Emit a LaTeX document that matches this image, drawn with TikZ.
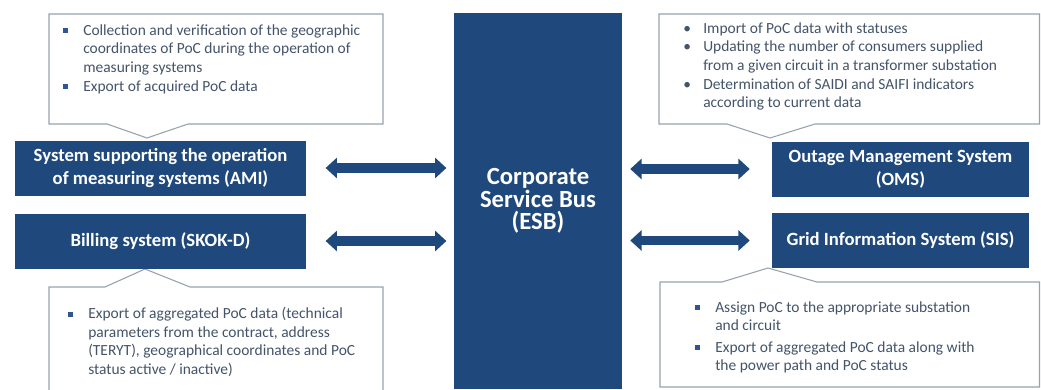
\documentclass[tikz,border=0pt]{standalone}
\usepackage{fontspec}
\setmainfont{Carlito}
\usetikzlibrary{arrows.meta}
\definecolor{busblue}{HTML}{1F497D}
\definecolor{notegray}{HTML}{44546A}
\definecolor{framegray}{HTML}{98A2AE}
\definecolor{dotblue}{HTML}{2F5597}
\newcommand{\sqbul}{\makebox[15pt][l]{\textcolor{dotblue}{\rule[0.25ex]{3.6pt}{3.6pt}}}}
\newcommand{\rdbul}{\makebox[15pt][l]{•}}
\newcommand{\cont}{\hspace*{15pt}}
\begin{document}
\begin{tikzpicture}[x=0.75pt, y=-0.75pt,
	sysbox/.style={fill=busblue, text=white, inner sep=0pt, align=center, minimum height=41.25pt, font=\bfseries\fontsize{14}{17}\selectfont},
	note/.style={anchor=north west, inner sep=0pt, align=left, text=notegray, font=\fontsize{11.6}{14}\selectfont},
	noteframe/.style={draw=framegray, fill=white, line width=0.8pt},
	link/.style={draw=busblue, line width=7pt, {Triangle[width=15pt, length=8.5pt]}-{Triangle[width=15pt, length=8.5pt]}}]
	\useasboundingbox (0, 0) rectangle (1041, 389);
	\clip (0, 0) rectangle (1041, 389);
	\draw[noteframe] (49, 14) -- (383, 14) -- (383, 124) -- (188, 124) -- (147, 138) -- (107, 124) -- (49, 124) -- cycle;
	\draw[noteframe] (49, 287) -- (105, 287) -- (145, 269) -- (190, 287) -- (383, 287) -- (383, 392) -- (49, 392) -- cycle;
	\draw[noteframe] (659, 14) -- (1039.5, 14) -- (1039.5, 124) -- (815, 124) -- (770, 138) -- (727, 124) -- (659, 124) -- cycle;
	\draw[noteframe] (660, 282) -- (722, 282) -- (768, 268) -- (817, 282) -- (1039.5, 282) -- (1039.5, 387) -- (660, 387) -- cycle;
	\node[sysbox, minimum width=126pt, minimum height=282pt, font=\bfseries\fontsize{18.5}{17}\selectfont] (esb) at (538, 201) {Corporate\\Service Bus\\(ESB)};
	\node[sysbox, minimum width=218.25pt] (ami) at (160.5, 168) {System supporting the operation\\of measuring systems (AMI)};
	\node[sysbox, minimum width=218.25pt] (skok) at (160.5, 241) {Billing system (SKOK-D)};
	\node[sysbox, minimum width=192.75pt] (oms) at (900.5, 169) {Outage Management System\\(OMS)};
	\node[sysbox, minimum width=192.75pt] (sis) at (900.5, 240.5) {Grid Information System (SIS)};
	\node[note] (amitxt) at (63, 24) {\sqbul Collection and verification of the geographic\\\cont coordinates of PoC during the operation of\\\cont measuring systems\\\sqbul Export of acquired PoC data};
	\node[note] (skoktxt) at (68, 307) {\sqbul Export of aggregated PoC data (technical\\\cont parameters from the contract, address\\\cont (TERYT), geographical coordinates and PoC\\\cont status active / inactive)};
	\node[note] (omstxt) at (683, 22) {\rdbul Import of PoC data with statuses\\\rdbul Updating the number of consumers supplied\\\cont from a given circuit in a transformer substation\\\rdbul Determination of SAIDI and SAIFI indicators\\\cont according to current data};
	\node[note] (sistxt) at (695, 301) {\sqbul Assign PoC to the appropriate substation\\\cont and circuit\\[2pt]\sqbul Export of aggregated PoC data along with\\\cont the power path and PoC status};
	\draw[link, shorten <=14.5pt, shorten >=5.5pt] (ami.east) -- (ami.east -| esb.west);
	\draw[link, shorten <=14.5pt, shorten >=5.5pt] (skok.east) -- (skok.east -| esb.west);
	\draw[link, shorten <=6pt, shorten >=16.5pt] (oms.west -| esb.east) -- (oms.west);
	\draw[link, shorten <=6pt, shorten >=16.5pt] (sis.west -| esb.east) -- (sis.west);
\end{tikzpicture}
\end{document}
